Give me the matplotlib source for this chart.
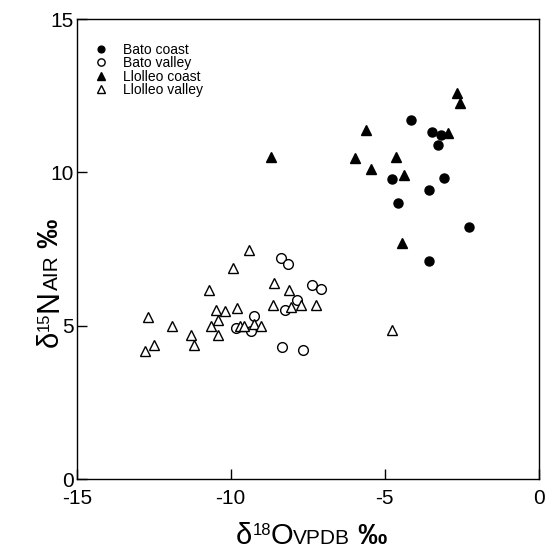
import numpy as np
import matplotlib
matplotlib.use('Agg')
import matplotlib.pyplot as plt

plt.rcParams['font.family'] = ['Liberation Sans', 'DejaVu Sans']

# --- data (d18O VPDB, d15N AIR) ---
bato_coast_x = [-4.15, -3.47, -3.17, -3.26, -4.77, -3.06, -3.56, -4.55, -2.27, -3.56]
bato_coast_y = [11.71, 11.32, 11.22, 10.91, 9.80, 9.83, 9.43, 9.01, 8.22, 7.12]

bato_valley_x = [-8.35, -8.13, -7.35, -7.05, -7.84, -8.24, -9.24, -9.84, -9.33, -8.34, -7.64]
bato_valley_y = [7.23, 7.02, 6.32, 6.22, 5.84, 5.52, 5.31, 4.92, 4.83, 4.33, 4.22]

llolleo_coast_x = [-2.64, -2.54, -5.59, -2.93, -5.95, -4.64, -5.43, -4.36, -4.43, -8.68]
llolleo_coast_y = [12.60, 12.28, 11.37, 11.30, 10.46, 10.50, 10.10, 9.91, 7.71, 10.50]

llolleo_valley_x = [-9.40, -9.91, -10.69, -8.60, -8.11, -8.62, -8.03, -7.73, -7.22,
                    -9.80, -10.47, -10.19, -10.42, -12.68, -11.89, -10.64, -9.71,
                    -9.56, -9.25, -9.00, -11.30, -10.40, -12.49, -11.19, -12.79, -4.76]
llolleo_valley_y = [7.48, 6.88, 6.18, 6.39, 6.18, 5.67, 5.62, 5.67, 5.67,
                    5.59, 5.51, 5.50, 5.18, 5.28, 4.99, 4.99, 4.99,
                    4.99, 5.08, 4.99, 4.70, 4.70, 4.39, 4.38, 4.20, 4.88]

x_ticks = [-15, -10, -5, 0]
y_ticks = [0, 5, 10, 15]

# axis label pieces: (text, size, raise in px, weight)
x_label_parts = [('δ', 21, 0, 'normal'), ('18', 12, 9, 'normal'), ('O', 21, 0, 'normal'),
                 ('VPDB', 15, 0, 'normal'), (' ‰', 21, 0, 'bold')]
y_label_parts = [('δ', 21, 0, 'normal'), ('15', 12, 9, 'normal'), ('N', 22, 0, 'normal'),
                 ('AIR', 15, 0, 'normal'), (' ‰', 21, 0, 'bold')]

W, H = 549, 551
fig = plt.figure(figsize=(W / 100, H / 100), dpi=100)
ax = fig.add_axes([0.1397, 0.1298, 0.8413, 0.8357])

ax.plot(bato_coast_x, bato_coast_y, 'o', ms=6.5, color='black', ls='none', label='Bato coast')
ax.plot(bato_valley_x, bato_valley_y, 'o', ms=7, mfc='white', mec='black', mew=1.0,
        ls='none', label='Bato valley')
ax.plot(llolleo_coast_x, llolleo_coast_y, '^', ms=7, color='black', ls='none',
        label='Llolleo coast')
ax.plot(llolleo_valley_x, llolleo_valley_y, '^', ms=7, mfc='white', mec='black', mew=1.0,
        ls='none', label='Llolleo valley')

ax.set_xlim(-15, 0)
ax.set_ylim(0, 15)
ax.set_xticks(x_ticks)
ax.set_yticks(y_ticks)
ax.set_xticklabels([str(t) for t in x_ticks])
ax.set_yticklabels([str(t) for t in y_ticks])
ax.tick_params(direction='in', length=7, width=1, labelsize=15, top=False, right=False)
ax.tick_params(axis='x', pad=7)
ax.tick_params(axis='y', pad=2)
for s in ax.spines.values():
    s.set_linewidth(1.0)

ax.legend(loc='upper left', frameon=False, fontsize=10, markerscale=0.75,
          handlelength=0.8, handletextpad=1.2, labelspacing=-0.05, borderaxespad=0,
          bbox_to_anchor=(0.028, 0.96))


def draw_label(parts, x0, y0, vertical=False):
    """Lay out text runs one after another, in pixels from the lower left."""
    renderer = fig.canvas.get_renderer()
    pos = 0.0
    for text, size, lift, weight in parts:
        if vertical:
            x, y, rot = x0 - lift, y0 + pos, 90
        else:
            x, y, rot = x0 + pos, y0 + lift, 0
        t = fig.text(x / W, y / H, text, fontsize=size, fontweight=weight,
                     ha='left', va='baseline', rotation=rot, rotation_mode='anchor')
        bb = t.get_window_extent(renderer)
        pos += bb.height if vertical else bb.width


draw_label(x_label_parts, 236, 551 - 544)
draw_label(y_label_parts, 58, 551 - 347, vertical=True)

fig.savefig('out.png', dpi=100)
